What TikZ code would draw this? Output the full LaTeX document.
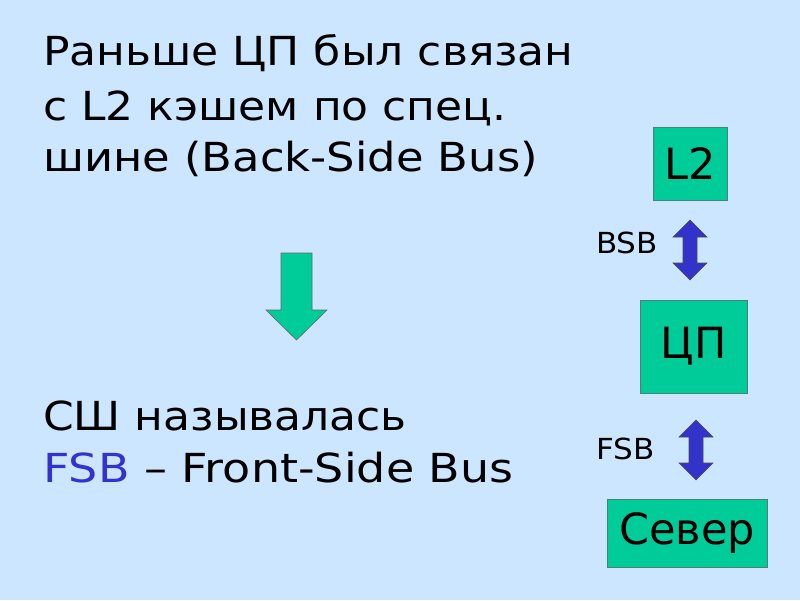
\documentclass[tikz,border=0pt]{standalone}
\usepackage{fontspec}
\setmainfont{DejaVu Sans}
\newfontfamily\wide[FakeStretch=1.07]{DejaVu Sans}
\newfontfamily\wider[FakeStretch=1.1]{DejaVu Sans}
\newfontfamily\widerb[FakeStretch=1.12]{DejaVu Sans}
\newfontfamily\widest[FakeStretch=1.15]{DejaVu Sans}
\definecolor{bgc}{HTML}{CCE6FF}
\definecolor{boxg}{HTML}{00CC99}
\definecolor{arrb}{HTML}{3333CC}
\definecolor{edgeg}{HTML}{4D7F73}
\begin{document}
\begin{tikzpicture}[x=1pt,y=-1pt,
  body/.style={anchor=base west,inner sep=0pt,font=\wider\fontsize{40}{46}\selectfont},
  lab/.style={anchor=base west,inner sep=0pt,font=\wide\fontsize{29}{34}\selectfont},
  unit/.style={draw=edgeg,line width=0.8pt,fill=boxg,inner sep=0pt,font=\fontsize{43}{48}\selectfont},
  blockarrow/.style={draw=black!70,line width=0.6pt,fill=arrb},
  downarrow/.style={draw=black!60,line width=0.6pt,fill=boxg}]
\fill[bgc] (0,0) rectangle (800,600);
\useasboundingbox (0,0) rectangle (800,600);
% left text
\node[body] (t1) at (43,65) {Раньше ЦП был связан};
\node[body] (t2) at (43,120) {с L2 кэшем по спец.};
\node[body,font=\widerb\fontsize{40}{46}\selectfont] (t3) at (43,171) {шине (Back-Side Bus)};
\node[body] (t4) at (43,430) {СШ называлась};
\node[body,font=\widest\fontsize{40}{46}\selectfont] (t5) at (43,482) {\textcolor{arrb}{FSB} – Front-Side Bus};
% green down arrow
\draw[downarrow] (281,253) -- (312,253) -- (312,310) -- (327,310) -- (296.5,340) -- (266,310) -- (281,310) -- cycle;
% boxes
\node[unit,minimum width=74,minimum height=73] (l2) at (690,163.5) {L2};
\node[unit,minimum width=107,minimum height=93] (cpu) at (693.5,346.5) {ЦП};
\node[unit,minimum width=160,minimum height=68] (nb) at (687,533) {Север};
% labels
\node[lab] (bsb) at (596,253) {BSB};
\node[lab] (fsb) at (596,459) {FSB};
% double block arrows
\draw[blockarrow] (690,220) -- (707,237) -- (697,237) -- (697,263) -- (707,263) -- (690,280) -- (673,263) -- (683,263) -- (683,237) -- (673,237) -- cycle;
\draw[blockarrow] (696,420) -- (713,437) -- (703,437) -- (703,463) -- (713,463) -- (696,480) -- (679,463) -- (689,463) -- (689,437) -- (679,437) -- cycle;
\end{tikzpicture}
\end{document}
